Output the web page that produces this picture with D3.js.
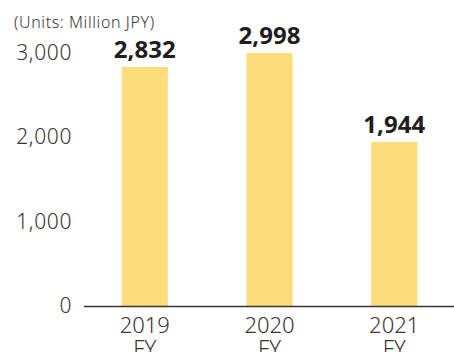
<!DOCTYPE html>
<html><head><meta charset="utf-8">
<script src="https://cdn.jsdelivr.net/npm/d3@7"></script>
<style>body{margin:0;background:#fff}svg{display:block}</style>
</head><body>
<script>
const categories = ["2019", "2020", "2021"];
const catSuffix = "FY";
const values = [2832, 2998, 1944];
const yTicks = [0, 1000, 2000, 3000];
const unitLabel = "(Units: Million JPY)";

const W = 454, H = 352;
const svg = d3.select("body").append("svg").attr("width", W).attr("height", H);
const font = "'Noto Sans', 'Open Sans', sans-serif";
const textColor = "#3a3434";

const x = d3.scaleBand().domain(categories).range([83, 456]).paddingInner(0.63).paddingOuter(0.31);
const y = d3.scaleLinear().domain([0, 3000]).range([306, 52.8]);

svg.append("text").attr("x", 14).attr("y", 28).text(unitLabel)
  .attr("font-family", font).attr("font-size", 16).attr("letter-spacing", 0.6).attr("font-weight", 300).attr("fill", textColor);

svg.selectAll("text.yt").data(yTicks).enter().append("text").attr("class","yt")
  .attr("x", 72).attr("y", d => y(d) + 7).attr("text-anchor", "end")
  .attr("font-family", font).attr("font-size", 21).attr("letter-spacing", 0.6).attr("font-weight", 300).attr("fill", textColor)
  .text(d => d3.format(",")(d));

svg.selectAll("rect.bar").data(values).enter().append("rect").attr("class","bar")
  .attr("x", (d,i) => x(categories[i])).attr("width", x.bandwidth())
  .attr("y", d => y(d)).attr("height", d => y(0) - y(d)).attr("fill", "#fddd7b");

svg.append("line").attr("x1", 84).attr("x2", W).attr("y1", y(0)+0.5).attr("y2", y(0)+0.5)
  .attr("stroke", "#3a3434").attr("stroke-width", 1.5);

svg.selectAll("text.val").data(values).enter().append("text").attr("class","val")
  .attr("x", (d,i) => x(categories[i]) + x.bandwidth()/2).attr("y", d => y(d) - 9)
  .attr("text-anchor", "middle").attr("font-family", font).attr("font-size", 24).attr("font-weight", 700)
  .attr("fill", "#231c1c").text(d => d3.format(",")(d));

svg.selectAll("text.cat").data(categories).enter().append("text").attr("class","cat")
  .attr("x", d => x(d) + x.bandwidth()/2).attr("y", 333).attr("text-anchor", "middle")
  .attr("font-family", font).attr("font-size", 22).attr("font-weight", 300).attr("fill", textColor)
  .text(d => d);
svg.selectAll("text.cat2").data(categories).enter().append("text").attr("class","cat2")
  .attr("x", d => x(d) + x.bandwidth()/2).attr("y", 356).attr("text-anchor", "middle")
  .attr("font-family", font).attr("font-size", 22).attr("font-weight", 300).attr("fill", textColor)
  .text(catSuffix);
</script>
</body></html>
